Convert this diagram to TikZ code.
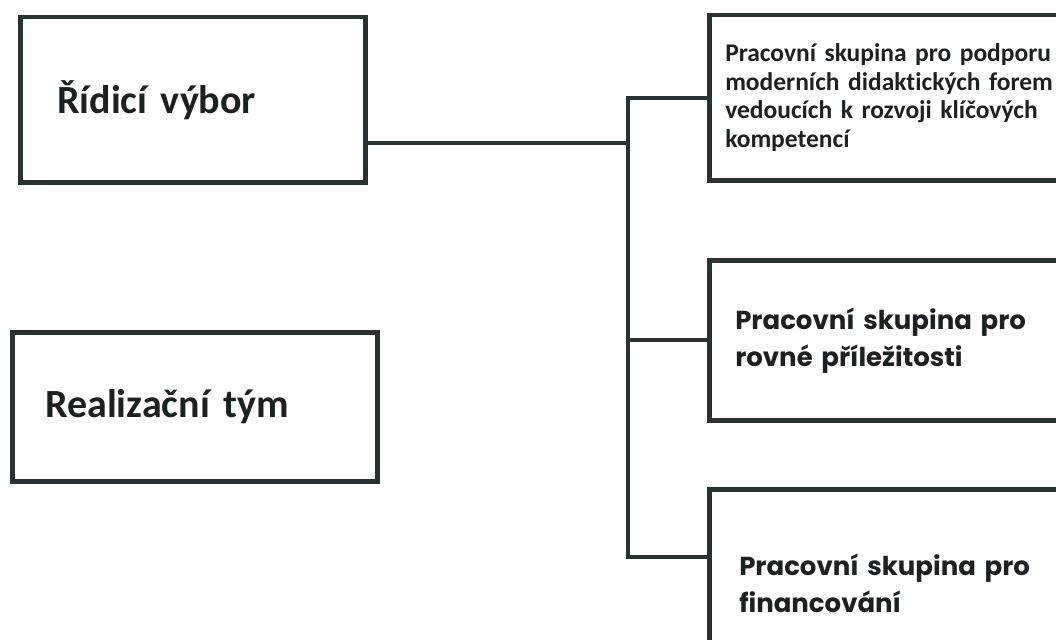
\documentclass[tikz,border=0pt]{standalone}
\usepackage{fontspec}
\setmainfont{Carlito}[Ligatures=NoCommon]
\newfontfamily\geofont{Poppins}
\usetikzlibrary{positioning}
\definecolor{ink}{RGB}{40,50,50}
\definecolor{txt}{RGB}{26,33,35}

\begin{document}
\begin{tikzpicture}[x=1pt,y=-1pt,
  bx/.style={rectangle,draw=ink,line width=4.5pt,anchor=north west,align=left,text=txt,inner ysep=0pt},
  big/.style={font=\fontsize{40}{48}\selectfont\bfseries},
  small/.style={font=\fontsize{25.5}{28.5}\selectfont\bfseries},
  geo/.style={font=\geofont\fontsize{26}{37}\selectfont\bfseries},
  ln/.style={ink,line width=4pt}]
  \useasboundingbox (0,0) rectangle (1056,639);
  \clip (0,0) rectangle (1056,639);
  % left boxes
  \node[bx,big,inner xsep=37pt,text width=271pt,minimum height=165pt](ridici) at (18,15){Řídicí výbor};
  \node[bx,big,inner xsep=33pt,text width=299pt,minimum height=149pt](realiz) at (10,330){Realizační tým};
  % working groups
  \node[bx,small,inner xsep=16pt,text width=348pt,minimum height=165pt](grp1) at (707,13){Pracovní skupina pro podporu\\moderních didaktických forem\\vedoucích k rozvoji klíčových\\kompetencí};
  \node[bx,geo,inner xsep=26pt,text width=328pt,minimum height=160pt](grp2) at (707,258){Pracovní skupina pro\\rovné příležitosti};
  \node[bx,geo,inner xsep=30pt,text width=320pt,minimum height=188pt](grp3) at (707,487){Pracovní skupina pro\\financování};
  % connectors
  \coordinate (hub) at (628,143);
  \coordinate (low) at (628,557);
  \draw[ln](ridici.east |- hub)--(hub);
  \draw[ln](grp1.west)-|(low)--(low -| grp3.west);
  \draw[ln](hub |- grp2.west)--(grp2.west);
\end{tikzpicture}
\end{document}
